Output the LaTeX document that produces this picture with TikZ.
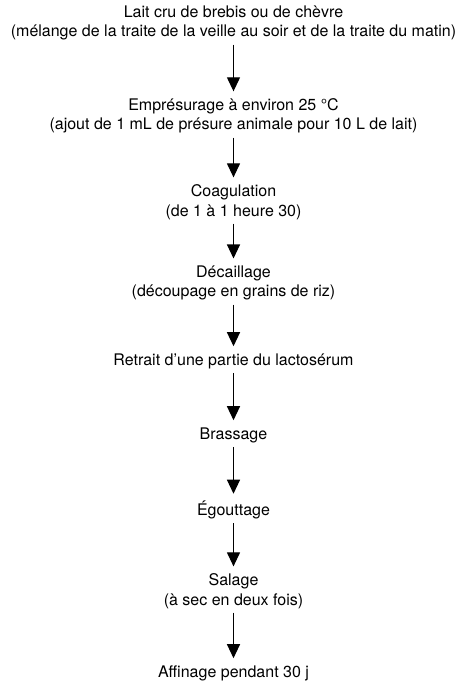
\documentclass[tikz,border=0pt]{standalone}
\usepackage{fontspec}
\setmainfont{TeX Gyre Heros}
\usetikzlibrary{arrows.meta}
\begin{document}
\begin{tikzpicture}[x=1pt,y=1pt,
  stepnode/.style={align=center,inner sep=0pt,font=\fontsize{16}{19.5}\selectfont},
  arr/.style={draw,line width=1.2pt,-{Triangle[length=14pt,width=13pt]},shorten <=4pt,shorten >=7pt}]
\useasboundingbox (0,0) rectangle (465,-683);
\node[stepnode] (n1) at (233.5,-23) {Lait cru de brebis ou de chèvre\\(mélange de la traite de la veille au soir et de la traite du matin)};
\node[stepnode] (n2) at (233.5,-116) {Emprésurage à environ 25 °C\\(ajout de 1 mL de présure animale pour 10 L de lait)};
\node[stepnode] (n3) at (233.5,-202) {Coagulation\\(de 1 à 1 heure 30)};
\node[stepnode] (n4) at (233.5,-283) {Décaillage\\(découpage en grains de riz)};
\node[stepnode] (n5) at (233.5,-361) {Retrait d’une partie du lactosérum};
\node[stepnode] (n6) at (233.5,-435) {Brassage};
\node[stepnode] (n7) at (233.5,-510) {Égouttage};
\node[stepnode] (n8) at (233.5,-591) {Salage\\(à sec en deux fois)};
\node[stepnode] (n9) at (233.5,-673) {Affinage pendant 30 j};
\foreach \a/\b in {n1/n2,n2/n3,n3/n4,n4/n5,n5/n6,n6/n7,n7/n8,n8/n9}
  \draw[arr] (\a.south) -- (\b.north);
\end{tikzpicture}
\end{document}
